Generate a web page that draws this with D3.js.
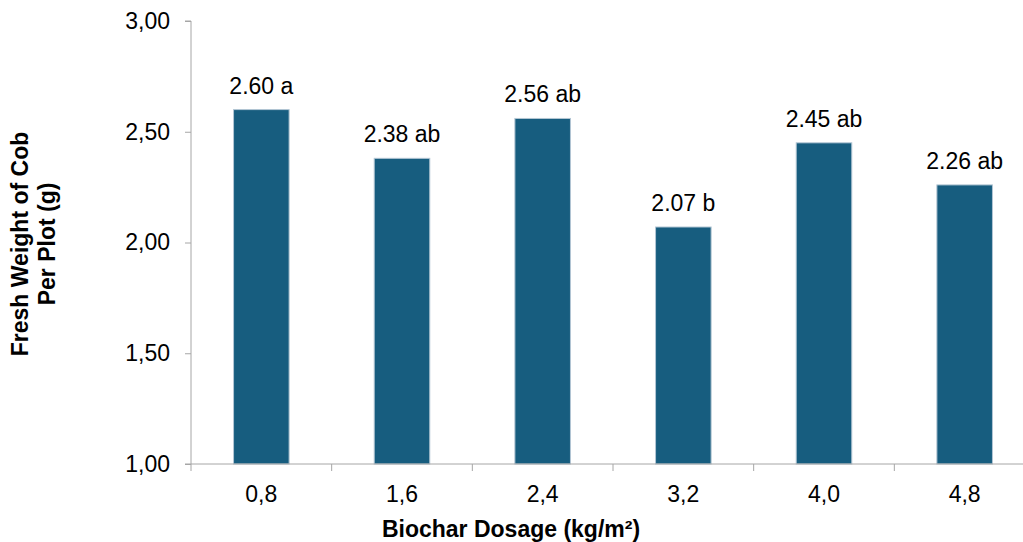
<!DOCTYPE html>
<html>
<head>
<meta charset="utf-8">
<script src="https://cdn.jsdelivr.net/npm/d3@7"></script>
<style>
  body { margin: 0; background: #fff; }
  svg { display: block; font-family: "Liberation Sans", Arial, sans-serif; }
</style>
</head>
<body>
<div id="chart"></div>
<script>
// data
var dosages = ["0,8", "1,6", "2,4", "3,2", "4,0", "4,8"];
var weights = [2.60, 2.38, 2.56, 2.07, 2.45, 2.26];
var letters = ["a", "ab", "ab", "b", "ab", "ab"];
var yTicks = [1.0, 1.5, 2.0, 2.5, 3.0];

var width = 1023, height = 542;
// plot area runs a little past the right edge, as in the reference
var plotLeft = 191, plotRight = 1035, plotTop = 21, plotBottom = 464;

var svg = d3.select("#chart").append("svg")
    .attr("width", width)
    .attr("height", height);

var x = d3.scaleBand().domain(dosages).range([plotLeft, plotRight]).paddingInner(0).paddingOuter(0);
var y = d3.scaleLinear().domain([1, 3]).range([plotBottom, plotTop]);

var axisColor = "#a6a6a6";
var barW = x.bandwidth() * 0.395;
var fs = 23;

// bars
svg.append("g").selectAll("rect")
    .data(weights)
    .enter().append("rect")
    .attr("x", function(d, i) { return x(dosages[i]) + x.bandwidth() / 2 - barW / 2; })
    .attr("y", function(d) { return y(d); })
    .attr("width", barW)
    .attr("height", function(d) { return y(1) - y(d); })
    .attr("fill", "#175d7f")
    .attr("stroke", "#b3c6d4")
    .attr("stroke-width", 1);

// value labels
svg.append("g").selectAll("text")
    .data(weights)
    .enter().append("text")
    .attr("x", function(d, i) { return x(dosages[i]) + x.bandwidth() / 2; })
    .attr("y", function(d) { return y(d) - 16; })
    .attr("text-anchor", "middle")
    .attr("font-size", fs)
    .attr("fill", "#000")
    .text(function(d, i) { return d.toFixed(2) + " " + letters[i]; });

// y axis
var yAxis = d3.axisLeft(y).tickValues(yTicks).tickSize(6).tickPadding(15)
    .tickFormat(function(d) { return d.toFixed(2).replace(".", ","); });
var gy = svg.append("g").attr("transform", "translate(" + plotLeft + ",0)").call(yAxis);
gy.select(".domain").attr("stroke", axisColor).attr("d", "M-6," + plotTop + "H0V" + plotBottom + "H-6");
gy.selectAll(".tick line").attr("stroke", axisColor);
gy.selectAll(".tick text").attr("font-size", fs).attr("fill", "#000")
    .attr("font-family", "Liberation Sans, Arial, sans-serif");

// x axis: ticks sit on band boundaries
var gx = svg.append("g").attr("transform", "translate(0," + plotBottom + ")");
gx.append("line").attr("x1", plotLeft).attr("x2", plotRight).attr("stroke", axisColor);
var bounds = dosages.map(function(d) { return x(d); }).concat([plotRight]);
gx.selectAll("line.tk").data(bounds).enter().append("line")
    .attr("class", "tk")
    .attr("x1", function(d) { return d; }).attr("x2", function(d) { return d; })
    .attr("y1", 0).attr("y2", 7)
    .attr("stroke", axisColor);
gx.selectAll("text").data(dosages).enter().append("text")
    .attr("x", function(d) { return x(d) + x.bandwidth() / 2; })
    .attr("y", 38)
    .attr("text-anchor", "middle")
    .attr("font-size", fs)
    .text(function(d) { return d; });

// axis titles
svg.append("text")
    .attr("x", 511).attr("y", 537)
    .attr("text-anchor", "middle")
    .attr("font-size", 23).attr("font-weight", "bold")
    .text("Biochar Dosage (kg/m²)");

var yt = svg.append("text")
    .attr("transform", "translate(0,244) rotate(-90)")
    .attr("text-anchor", "middle")
    .attr("font-size", 23).attr("font-weight", "bold");
yt.append("tspan").attr("x", 0).attr("y", 28).text("Fresh Weight of Cob");
yt.append("tspan").attr("x", 0).attr("y", 55).text("Per Plot (g)");
</script>
</body>
</html>
